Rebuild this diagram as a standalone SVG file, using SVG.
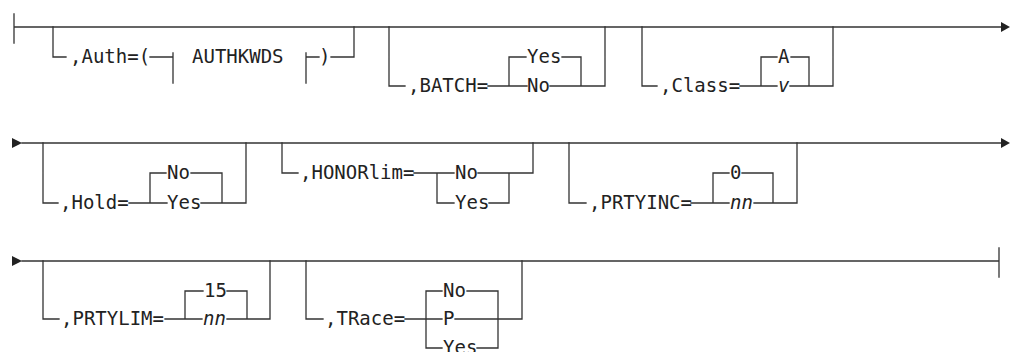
<svg xmlns="http://www.w3.org/2000/svg" width="1010" height="352" viewBox="0 0 1010 352">
<style>
.l{fill:none;stroke:#333;stroke-width:1.3;stroke-linecap:square}
.t{font-family:"DejaVu Sans Mono","Liberation Mono",monospace;font-size:19px;fill:#222}
.i{font-style:italic}
.a{fill:#222}
</style>
<rect width="1010" height="352" fill="#fff"/>
<g id="connectors">
<!-- row 1 -->
<path class="l" d="M14 14V43M14 27H1002"/>
<polygon class="a" points="1001,22 1010,27 1001,32"/>
<path class="l" d="M53 27V57H66M150 57H173M173 53V83M306 53V83M306 57H319M331 57H354V27"/>
<path class="l" d="M389 27V86H405M488 86H527M550 86H605V27M509 57V86M509 57H526M562 57H581V86"/>
<path class="l" d="M642 27V86H657M740 86H777M790 86H833V27M761 57V86M761 57H777M791 57H809V86"/>
<!-- row 2 -->
<polygon class="a" points="12,138 22,143 12,148"/>
<path class="l" d="M22 143H1002"/>
<polygon class="a" points="1001,138 1010,143 1001,148"/>
<path class="l" d="M43 143V203H58M129 203H167M201 203H246V143M150 173V203M150 173H166M191 173H222V203"/>
<path class="l" d="M282 143V173H298M414 173H454M478 173H533V143M437 173V203H454M489 203H509V173"/>
<path class="l" d="M569 143V203H586M691 203H729M754 203H797V143M713 173V203M713 173H729M742 173H773V203"/>
<!-- row 3 -->
<polygon class="a" points="12,256 22,261 12,266"/>
<path class="l" d="M22 261H999M999 248V277"/>
<path class="l" d="M43 261V319H59M165 319H202M227 319H270V261M185 291V319M185 291H203M227 291H247V319"/>
<path class="l" d="M306 261V319H323M405 319H442M455 319H522V261M426 291V348H442M477 348H498V291M426 291H442M467 291H498"/>
</g>
<g id="auth">
<text class="t" x="70" y="63">,Auth=(</text>
<text class="t" x="192" y="63">AUTHKWDS</text>
<text class="t" x="319" y="63">)</text>
</g>
<g id="batch">
<text class="t" x="408" y="92">,BATCH=</text>
<text class="t" x="527" y="63">Yes</text>
<text class="t" x="527" y="92">No</text>
</g>
<g id="class">
<text class="t" x="660" y="92">,Class=</text>
<text class="t" x="778" y="63">A</text>
<text class="t i" x="778" y="92">v</text>
</g>
<g id="hold">
<text class="t" x="60" y="209">,Hold=</text>
<text class="t" x="167" y="179">No</text>
<text class="t" x="167" y="209">Yes</text>
</g>
<g id="honorlim">
<text class="t" x="300" y="179">,HONORlim=</text>
<text class="t" x="455" y="179">No</text>
<text class="t" x="455" y="209">Yes</text>
</g>
<g id="prtyinc">
<text class="t" x="589" y="209">,PRTYINC=</text>
<text class="t" x="730" y="179">0</text>
<text class="t i" x="730" y="209">nn</text>
</g>
<g id="prtylim">
<text class="t" x="61" y="325">,PRTYLIM=</text>
<text class="t" x="204" y="297">15</text>
<text class="t i" x="203" y="325">nn</text>
</g>
<g id="trace">
<text class="t" x="325" y="325">,TRace=</text>
<text class="t" x="443" y="297">No</text>
<text class="t" x="443" y="325">P</text>
<text class="t" x="443" y="354">Yes</text>
</g>
</svg>
